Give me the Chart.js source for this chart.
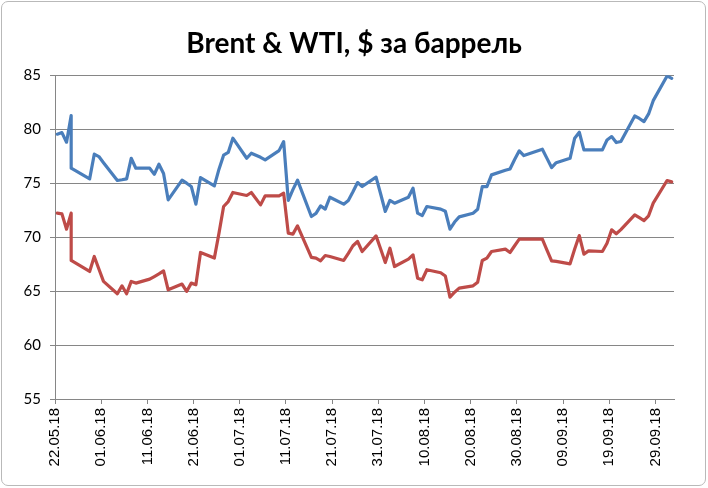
<!DOCTYPE html>
<html>
<head>
<meta charset="utf-8">
<script src="https://cdn.jsdelivr.net/npm/chart.js@4.4.1/dist/chart.umd.min.js"></script>
<style>
html, body { margin: 0; padding: 0; background: #fff; }
#wrap { position: relative; width: 708px; height: 488px; }
#marco { position: absolute; left: 1px; top: 1px; width: 703px; height: 483px; border: 1px solid #b9b9b9; border-radius: 7px; pointer-events: none; }
</style>
</head>
<body>
<div id="wrap">
  <canvas id="myChart" width="708" height="488"></canvas>
  <div id="marco"></div>
</div>
<script>
// datos (fecha de cotizacion, Brent, WTI)
const fechas = [
  '22.05.18','23.05.18','24.05.18','25.05.18','25.05.18','29.05.18','30.05.18','31.05.18','01.06.18',
  '04.06.18','05.06.18','06.06.18','07.06.18','08.06.18','11.06.18','12.06.18','13.06.18','14.06.18','15.06.18',
  '18.06.18','19.06.18','20.06.18','21.06.18','22.06.18','25.06.18','26.06.18','27.06.18','28.06.18','29.06.18',
  '02.07.18','03.07.18','05.07.18','06.07.18','09.07.18','10.07.18','11.07.18','12.07.18','13.07.18',
  '16.07.18','17.07.18','18.07.18','19.07.18','20.07.18','23.07.18','24.07.18','25.07.18','26.07.18','27.07.18',
  '30.07.18','31.07.18','01.08.18','02.08.18','03.08.18','06.08.18','07.08.18','08.08.18','09.08.18','10.08.18',
  '13.08.18','14.08.18','15.08.18','16.08.18','17.08.18','20.08.18','21.08.18','22.08.18','23.08.18','24.08.18',
  '27.08.18','28.08.18','29.08.18','30.08.18','31.08.18','04.09.18','05.09.18','06.09.18','07.09.18',
  '10.09.18','11.09.18','12.09.18','13.09.18','14.09.18','17.09.18','18.09.18','19.09.18','20.09.18','21.09.18',
  '24.09.18','25.09.18','26.09.18','27.09.18','28.09.18','01.10.18','02.10.18'
];
const brent = [
  79.54, 79.69, 78.80, 81.27, 76.39, 75.40, 77.69, 77.47, 76.90,
  75.25, 75.32, 75.40, 77.31, 76.39, 76.39, 75.83, 76.76, 75.90, 73.46,
  75.28, 75.00, 74.70, 73.06, 75.52, 74.75, 76.30, 77.60, 77.85, 79.17,
  77.31, 77.78, 77.40, 77.16, 78.02, 78.86, 73.40, 74.40, 75.28,
  71.91, 72.20, 72.90, 72.60, 73.70, 73.06, 73.40, 74.20, 75.06, 74.69,
  75.56, 74.00, 72.38, 73.40, 73.15, 73.70, 74.54, 72.22, 72.00, 72.84,
  72.60, 72.40, 70.74, 71.40, 71.88, 72.22, 72.59, 74.69, 74.69, 75.77,
  76.20, 76.32, 77.20, 78.00, 77.56, 78.15, 77.30, 76.45, 76.90,
  77.31, 79.17, 79.72, 78.09, 78.09, 78.09, 79.00, 79.32, 78.77, 78.86,
  81.23, 81.00, 80.71, 81.42, 82.65, 84.94, 84.72
];
const wti = [
  72.22, 72.16, 70.74, 72.22, 67.84, 66.82, 68.21, 67.05, 65.90,
  64.75, 65.49, 64.75, 65.90, 65.74, 66.11, 66.35, 66.60, 66.88, 65.12,
  65.65, 64.97, 65.74, 65.59, 68.58, 68.06, 70.37, 72.84, 73.30, 74.14,
  73.86, 74.14, 72.99, 73.83, 73.83, 74.07, 70.37, 70.28, 71.05,
  68.12, 68.06, 67.81, 68.30, 68.21, 67.84, 68.50, 69.20, 69.60, 68.67,
  70.12, 68.90, 67.65, 68.98, 67.28, 67.96, 68.36, 66.20, 66.05, 66.98,
  66.70, 66.40, 64.44, 64.90, 65.28, 65.49, 65.83, 67.84, 68.06, 68.67,
  68.89, 68.58, 69.20, 69.81, 69.81, 69.81, 68.80, 67.80, 67.75,
  67.53, 68.90, 70.15, 68.43, 68.73, 68.67, 69.44, 70.68, 70.31, 70.70,
  72.07, 71.80, 71.54, 71.98, 73.15, 75.25, 75.12
];
const etiquetasX = ['22.05.18','01.06.18','11.06.18','21.06.18','01.07.18','11.07.18','21.07.18',
  '31.07.18','10.08.18','20.08.18','30.08.18','09.09.18','19.09.18','29.09.18'];
const ticksY = [55, 60, 65, 70, 75, 80, 85];
const fin = '03.10.18';

function aDia(txt) {
  const p = txt.split('.');
  const base = Date.UTC(2018, 4, 22);
  return (Date.UTC(2000 + Number(p[2]), Number(p[1]) - 1, Number(p[0])) - base) / 86400000;
}

const diasTicks = etiquetasX.map(aDia);
const puntos = (serie) => fechas.map((f, i) => ({ x: aDia(f) + 0.5, y: serie[i] }));
const gris = '#868686';

const config = {
  type: 'line',
  data: {
    datasets: [
      { label: 'Brent', data: puntos(brent), borderColor: '#4a7ebb', borderWidth: 3.2, pointRadius: 0, tension: 0, borderJoinStyle: 'round', borderCapStyle: 'round' },
      { label: 'WTI', data: puntos(wti), borderColor: '#be4b48', borderWidth: 3.2, pointRadius: 0, tension: 0, borderJoinStyle: 'round', borderCapStyle: 'round' }
    ]
  },
  options: {
    responsive: false,
    animation: false,
    layout: { padding: 0 },
    plugins: {
      legend: { display: false },
      tooltip: { enabled: false },
      title: {
        display: true,
        text: 'Brent & WTI, $ за баррель',
        color: '#000',
        font: { family: 'Lato', size: 28, weight: 'bold' },
        padding: { top: 27, bottom: 14.7 }
      }
    },
    scales: {
      x: {
        type: 'linear',
        min: 0,
        max: aDia(fin),
        afterBuildTicks: (s) => { s.ticks = diasTicks.map(v => ({ value: v })); },
        afterFit: (s) => { s.height = 89; },
        grid: { drawOnChartArea: false, drawTicks: true, tickLength: 5, color: gris },
        border: { color: gris },
        ticks: {
          autoSkip: false, maxRotation: 90, minRotation: 90, padding: 4,
          color: '#000', font: { family: 'Liberation Sans', size: 15 },
          callback: (v) => etiquetasX[diasTicks.indexOf(v)]
        }
      },
      y: {
        min: 55,
        max: 85,
        afterBuildTicks: (s) => { s.ticks = ticksY.map(v => ({ value: v })); },
        afterFit: (s) => { s.width = 55; },
        grid: { color: gris, tickLength: 5 },
        border: { color: gris },
        ticks: { color: '#000', padding: 9, font: { family: 'Lato', size: 15 } }
      },
      // eje vacio a la derecha, solo para dejar el margen del area de trazado
      margen: {
        type: 'linear',
        position: 'right',
        min: 55,
        max: 85,
        grid: { display: false },
        border: { display: false },
        ticks: { display: false },
        afterFit: (s) => { s.width = 34; }
      }
    }
  }
};

const chart = new Chart(document.getElementById('myChart'), config);
</script>
</body>
</html>
